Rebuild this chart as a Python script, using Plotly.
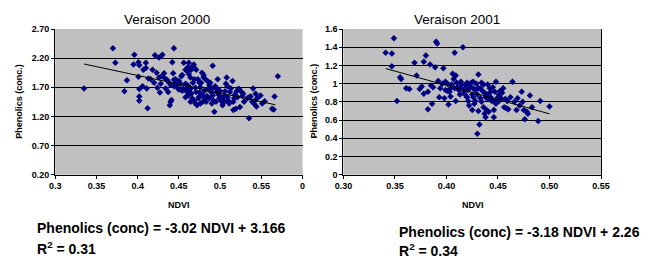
import plotly.graph_objects as go

# ---------------- data: Veraison 2000 ----------------
ndvi_2000 = [0.335, 0.370, 0.373, 0.384, 0.387, 0.396, 0.395, 0.401, 0.402, 0.401, 0.402, 0.402, 0.402,
             0.407, 0.410, 0.410, 0.411, 0.412, 0.413, 0.418, 0.421, 0.423, 0.424, 0.426, 0.430, 0.428,
             0.427, 0.429, 0.432, 0.437, 0.436, 0.439, 0.440, 0.441, 0.442, 0.443, 0.444, 0.444, 0.446,
             0.448, 0.450, 0.456, 0.460, 0.461, 0.462, 0.464, 0.465, 0.468, 0.469, 0.458, 0.459, 0.460,
             0.461, 0.463, 0.464, 0.465, 0.455, 0.454, 0.453, 0.452, 0.467, 0.469, 0.470, 0.471, 0.469,
             0.470, 0.472, 0.474, 0.475, 0.476, 0.478, 0.480, 0.477, 0.481, 0.479, 0.476, 0.482, 0.484,
             0.485, 0.487, 0.488, 0.491, 0.490, 0.491, 0.492, 0.493, 0.495, 0.496, 0.497, 0.499, 0.501,
             0.502, 0.503, 0.504, 0.505, 0.506, 0.507, 0.508, 0.509, 0.510, 0.511, 0.513, 0.515, 0.516,
             0.517, 0.518, 0.519, 0.520, 0.522, 0.523, 0.524, 0.526, 0.527, 0.528, 0.533, 0.535, 0.537,
             0.540, 0.541, 0.542, 0.543, 0.544, 0.549, 0.551, 0.554, 0.563, 0.565, 0.566, 0.570,
             0.435, 0.438, 0.440, 0.444, 0.446, 0.449, 0.450, 0.446, 0.450, 0.454, 0.458, 0.462, 0.466,
             0.471, 0.473, 0.475, 0.480, 0.483, 0.486, 0.489, 0.494, 0.498, 0.500, 0.458, 0.461, 0.464,
             0.466, 0.474, 0.479, 0.483, 0.487, 0.490, 0.495, 0.499, 0.505, 0.509, 0.512, 0.516, 0.521,
             0.529, 0.535, 0.539, 0.545, 0.406, 0.416, 0.420, 0.426, 0.432, 0.434]
phen_2000 = [1.68, 2.37, 2.12, 1.63, 1.82, 2.26, 2.09, 2.13, 2.08, 1.88, 1.67, 1.54, 1.47,
             2.00, 2.12, 2.03, 1.68, 1.34, 1.85, 2.00, 2.25, 1.95, 1.69, 2.21, 2.26, 1.76,
             1.61, 1.89, 1.94, 1.62, 1.82, 1.39, 1.45, 1.48, 2.13, 1.94, 2.37, 1.83, 1.78,
             1.74, 1.78, 2.12, 1.98, 2.05, 1.93, 1.87, 2.00, 2.09, 2.03, 1.76, 1.66, 1.62,
             1.73, 1.63, 1.68, 1.59, 1.68, 1.64, 1.89, 1.76, 1.78, 1.84, 1.69, 1.62, 1.47,
             1.42, 1.39, 1.51, 1.61, 1.70, 1.95, 1.91, 1.78, 1.64, 1.45, 1.42, 1.51, 1.55,
             1.67, 1.74, 1.78, 2.07, 1.67, 1.56, 1.47, 1.28, 1.68, 1.61, 1.84, 1.56, 1.51,
             1.45, 1.39, 1.48, 1.55, 1.63, 1.76, 1.87, 1.72, 1.47, 1.42, 1.68, 1.81, 1.31,
             1.51, 1.57, 1.33, 1.63, 1.67, 1.67, 1.36, 1.62, 1.55, 1.59, 1.51, 1.17, 1.54,
             1.68, 1.42, 1.47, 1.59, 1.37, 1.56, 1.42, 1.46, 1.33, 1.32, 1.54, 1.89,
             1.83, 1.78, 1.74, 1.72, 1.74, 1.68, 1.66, 1.84, 1.81, 1.91, 2.00, 2.12, 2.05,
             2.00, 1.84, 1.78, 1.87, 1.83, 1.79, 1.62, 1.72, 1.66, 1.63, 1.53, 1.56, 1.45,
             1.51, 1.53, 1.56, 1.45, 1.51, 1.42, 1.45, 1.51, 1.45, 1.53, 1.62, 1.45, 1.53,
             1.45, 1.53, 1.45, 1.51, 1.72, 1.84, 1.78, 1.87, 1.87, 1.68]
trend_x_2000 = [0.335, 0.567]
trend_y_2000 = [2.10, 1.40]

# ---------------- data: Veraison 2001 ----------------
ndvi_2001 = [0.341, 0.347, 0.349, 0.347, 0.352, 0.355, 0.356, 0.361, 0.364, 0.369, 0.371, 0.374, 0.376,
             0.378, 0.378, 0.380, 0.382, 0.382, 0.384, 0.385, 0.386, 0.387, 0.389, 0.390, 0.391, 0.392,
             0.393, 0.394, 0.396, 0.397, 0.398, 0.399, 0.399, 0.401, 0.402, 0.403, 0.404, 0.405, 0.406,
             0.407, 0.408, 0.408, 0.409, 0.409, 0.410, 0.411, 0.412, 0.413, 0.413, 0.415, 0.416, 0.417,
             0.418, 0.418, 0.419, 0.420, 0.421, 0.421, 0.422, 0.423, 0.424, 0.425, 0.425, 0.426, 0.426,
             0.427, 0.428, 0.428, 0.429, 0.430, 0.430, 0.431, 0.431, 0.432, 0.433, 0.433, 0.434, 0.435,
             0.436, 0.436, 0.437, 0.438, 0.438, 0.439, 0.440, 0.440, 0.441, 0.442, 0.443, 0.444, 0.445,
             0.446, 0.446, 0.447, 0.447, 0.448, 0.450, 0.451, 0.452, 0.453, 0.454, 0.455, 0.456, 0.457,
             0.458, 0.459, 0.460, 0.462, 0.464, 0.466, 0.468, 0.469, 0.471, 0.473, 0.474, 0.475, 0.476,
             0.478, 0.479, 0.481, 0.483, 0.489, 0.491, 0.500,
             0.401, 0.404, 0.414, 0.420, 0.426, 0.431, 0.434, 0.437, 0.440, 0.443, 0.448, 0.451]
phen_2001 = [1.34, 1.33, 1.50, 1.19, 0.81, 1.07, 1.05, 0.95, 0.94, 1.23, 1.09, 0.94, 0.97,
             1.24, 0.89, 1.31, 0.72, 0.91, 1.21, 0.98, 0.78, 0.96, 1.18, 1.46, 1.44, 1.03,
             0.85, 0.95, 1.00, 1.17, 0.84, 1.02, 0.93, 1.00, 0.77, 0.91, 0.86, 0.99, 1.11,
             1.05, 0.95, 1.34, 1.09, 0.81, 1.01, 0.96, 0.93, 0.88, 0.95, 0.99, 1.40, 0.91,
             0.88, 0.95, 0.99, 0.85, 0.93, 0.81, 0.76, 0.97, 1.01, 0.71, 0.88, 0.95, 0.85,
             0.78, 0.81, 0.93, 1.00, 0.45, 0.88, 0.70, 1.10, 0.55, 0.84, 0.95, 0.80, 0.92,
             0.99, 0.74, 0.67, 0.85, 0.63, 0.71, 0.88, 0.99, 0.69, 0.95, 0.91, 0.81, 0.96,
             0.63, 0.71, 0.81, 0.91, 1.02, 0.85, 0.88, 0.92, 0.84, 0.90, 0.95, 0.74, 0.83,
             0.73, 0.81, 0.72, 0.85, 1.02, 0.80, 0.71, 0.84, 0.76, 0.91, 0.80, 0.71, 0.61,
             0.69, 0.67, 0.87, 0.74, 0.59, 0.81, 0.75,
             0.92, 0.95, 1.02, 1.01, 1.02, 0.95, 1.01, 0.90, 0.83, 0.85, 0.78, 0.81]
trend_x_2001 = [0.341, 0.500]
trend_y_2001 = [1.166, 0.668]

xticks_2000 = [0.3, 0.35, 0.4, 0.45, 0.5, 0.55, 0.6]
xticktext_2000 = ["0.3", "0.35", "0.4", "0.45", "0.5", "0.55", "0"]
titles = ["Veraison 2000", "Veraison 2001"]
equations = ["Phenolics (conc) = -3.02 NDVI + 3.166", "Phenolics (conc) = -3.18 NDVI + 2.26"]
r2_texts = ["R<sup>2</sup> = 0.31", "R<sup>2</sup> = 0.34"]

# ---------------- layout helpers ----------------
W, H = 646, 259
FONT = "Liberation Sans, Arial, sans-serif"
NAVY = "#000080"


def px(x):
    return x / W


def py(y):
    return 1 - y / H


fig = go.Figure()
fig.add_trace(go.Scatter(x=ndvi_2000, y=phen_2000, mode="markers",
                         marker=dict(symbol="diamond", size=5, color=NAVY),
                         xaxis="x", yaxis="y", showlegend=False))
fig.add_trace(go.Scatter(x=trend_x_2000, y=trend_y_2000, mode="lines",
                         line=dict(color="black", width=1),
                         xaxis="x", yaxis="y", showlegend=False))
fig.add_trace(go.Scatter(x=ndvi_2001, y=phen_2001, mode="markers",
                         marker=dict(symbol="diamond", size=5, color=NAVY),
                         xaxis="x2", yaxis="y2", showlegend=False))
fig.add_trace(go.Scatter(x=trend_x_2001, y=trend_y_2001, mode="lines",
                         line=dict(color="black", width=1),
                         xaxis="x2", yaxis="y2", showlegend=False))

tickfont = dict(family=FONT, size=9, color="black", weight="bold")
common_x = dict(showgrid=False, zeroline=False, showline=True, linecolor="black", linewidth=1,
                ticks="outside", ticklen=3, tickcolor="black", tickfont=tickfont)
common_y = dict(showgrid=True, gridcolor="black", gridwidth=1, zeroline=False, showline=True,
                linecolor="black", linewidth=1, ticks="outside", ticklen=3, tickcolor="black",
                tickfont=tickfont)

y0, y1 = py(176.5), py(25)
fig.update_layout(
    width=W, height=H,
    margin=dict(l=0, r=0, t=0, b=0),
    paper_bgcolor="white",
    plot_bgcolor="#C0C0C0",
    xaxis=dict(domain=[px(47.5), px(302)], range=[0.3, 0.6], tickmode="array",
               tickvals=xticks_2000, ticktext=xticktext_2000, anchor="y", **common_x),
    yaxis=dict(domain=[y0, y1], range=[0.2, 2.7], tick0=0.2, dtick=0.5, tickformat=".2f",
               anchor="x", **common_y),
    xaxis2=dict(domain=[px(344), px(609)], range=[0.3, 0.55], dtick=0.05, tick0=0.3,
                tickformat=".2f", anchor="y2", **common_x),
    yaxis2=dict(domain=[y0, y1], range=[0, 1.6], dtick=0.2, tick0=0, anchor="x2",
                mirror=True, **common_y),
)

ann = []
# titles
for txt, cx in zip(titles, [163, 461]):
    ann.append(dict(text=txt, x=px(cx), y=py(15), xref="paper", yref="paper",
                    xanchor="center", yanchor="middle", showarrow=False,
                    font=dict(family=FONT, size=13.5, color="black")))
# y axis titles
for cx in [10, 314]:
    ann.append(dict(text="Phenolics (conc.)", x=px(cx), y=py(100), xref="paper", yref="paper",
                    xanchor="center", yanchor="middle", showarrow=False, textangle=-90,
                    font=dict(family=FONT, size=9, color="black", weight="bold")))
# x axis titles
for cx in [175, 477]:
    ann.append(dict(text="NDVI", x=px(cx), y=py(208), xref="paper", yref="paper",
                    xanchor="center", yanchor="middle", showarrow=False,
                    font=dict(family=FONT, size=9, color="black", weight="bold")))
# equations
for txt, r2, lx, ey, ry in zip(equations, r2_texts, [27, 399], [232, 236], [253, 255]):
    ann.append(dict(text=txt, x=px(lx), y=py(ey), xref="paper", yref="paper",
                    xanchor="left", yanchor="middle", showarrow=False,
                    font=dict(family=FONT, size=14, color="black", weight="bold")))
    ann.append(dict(text=r2, x=px(lx), y=py(ry), xref="paper", yref="paper",
                    xanchor="left", yanchor="middle", showarrow=False,
                    font=dict(family=FONT, size=14, color="black", weight="bold")))

fig.update_layout(annotations=ann)
fig.write_html("out.html", config={"displayModeBar": False},
               post_script="document.body.style.margin='0';document.body.style.overflow='hidden';")
